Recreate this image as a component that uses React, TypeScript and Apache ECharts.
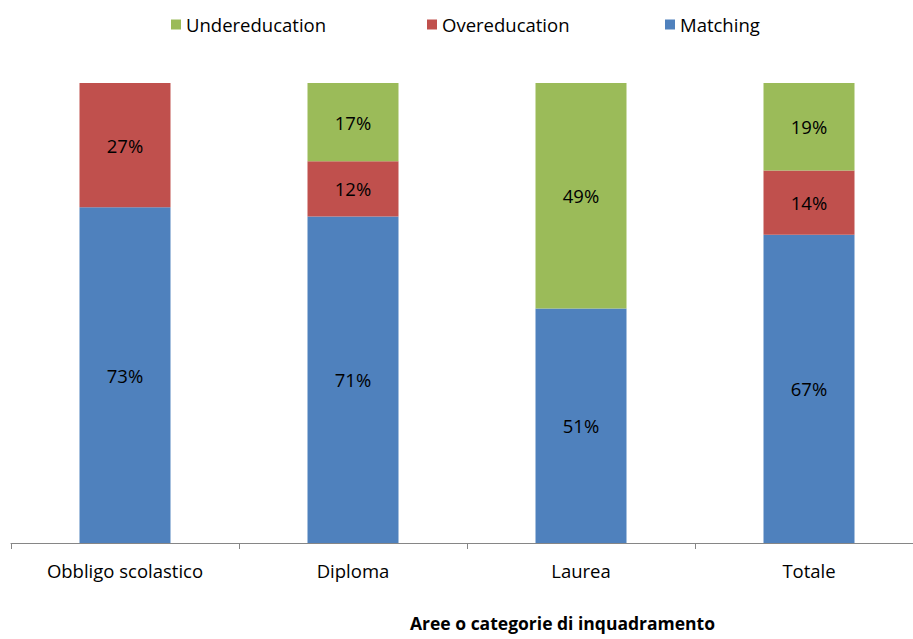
import React, { useEffect, useRef } from "react";
import * as echarts from "echarts";

const categories = ["Obbligo scolastico", "Diploma", "Laurea", "Totale"];
const matching = [73, 71, 51, 67];
const overeducation = [27, 12, 0, 14];
const undereducation = [0, 17, 49, 19];

const FONT = "'Open Sans', sans-serif";

export default function App() {
  const ref = useRef<HTMLDivElement>(null);
  useEffect(() => {
    const chart = echarts.init(ref.current!, null, { renderer: "svg" });
    const label = {
      show: true,
      position: "inside",
      color: "#000",
      fontSize: 18.5,
      fontFamily: FONT,
      formatter: (p: any) => (p.value ? p.value + "%" : ""),
    };
    const legendBase = {
      top: 10,
      icon: "rect",
      itemWidth: 10,
      itemHeight: 10,
      itemGap: 8,
      textStyle: { fontSize: 18.5, fontFamily: FONT, color: "#000" },
    };
    chart.setOption({
      animation: false,
      legend: [
        { ...legendBase, left: 166, itemGap: 10, data: ["Undereducation"] },
        { ...legendBase, left: 422, data: ["Overeducation"] },
        { ...legendBase, left: 660, data: ["Matching"] },
      ],
      grid: { left: 11, right: 7, top: 83, bottom: 96, containLabel: false },
      xAxis: {
        type: "category",
        data: categories,
        axisLine: { lineStyle: { color: "#868686", width: 1 } },
        axisTick: { show: true, length: 6, lineStyle: { color: "#868686" } },
        axisLabel: { color: "#000", fontSize: 18.5, fontFamily: FONT, margin: 18 },
      },
      yAxis: { type: "value", min: 0, max: 100, show: false, splitLine: { show: false } },
      graphic: [
        {
          type: "text",
          left: 410,
          top: 614,
          style: {
            text: "Aree o categorie di inquadramento",
            fontSize: 17.5,
            fontWeight: "bold",
            fontFamily: FONT,
            fill: "#000",
          },
        },
      ],
      series: [
        { name: "Matching", type: "bar", stack: "t", data: matching, barWidth: 91, itemStyle: { color: "#4F81BD" }, label },
        { name: "Overeducation", type: "bar", stack: "t", data: overeducation, barWidth: 91, itemStyle: { color: "#C0504D" }, label },
        { name: "Undereducation", type: "bar", stack: "t", data: undereducation, barWidth: 91, itemStyle: { color: "#9BBB59" }, label },
      ],
    });
    return () => chart.dispose();
  }, []);
  return (
    <div style={{ position: "fixed", left: 0, top: 0, width: 913, height: 639, overflow: "hidden", background: "#fff" }}>
      <div ref={ref} style={{ width: 930, height: 639 }} />
    </div>
  );
}
